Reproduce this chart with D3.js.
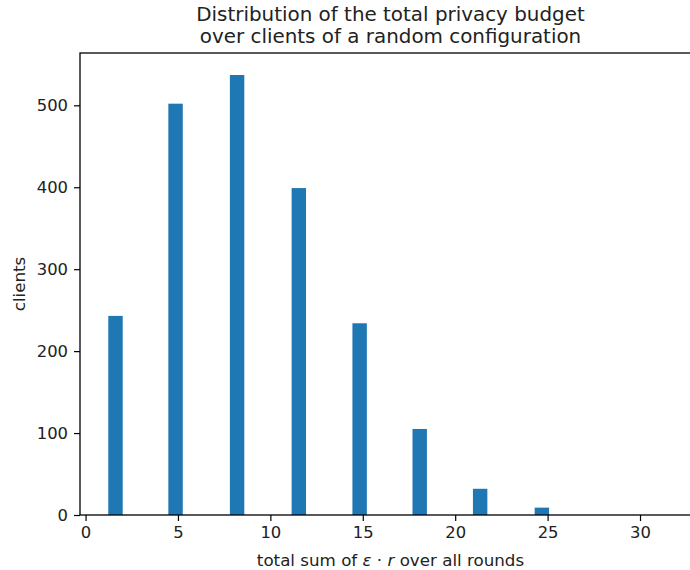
<!DOCTYPE html>
<html>
<head>
<meta charset="utf-8">
<script src="https://cdn.jsdelivr.net/npm/d3@7"></script>
<style>
  html, body { margin: 0; padding: 0; background: #fff; overflow: hidden; }
  svg { display: block; font-family: "DejaVu Sans", sans-serif; }
</style>
</head>
<body>
<svg id="chart" width="690" height="570"></svg>
<script>
// Histogram bins: left edge of each occupied bin and the client count in it
const binStarts = [1.23, 4.48, 7.81, 11.15, 14.44, 17.69, 20.96, 24.30];
const counts    = [243, 502, 537, 399, 234, 105, 32, 9];
const binWidth  = 0.78;

const xTicks = [0, 5, 10, 15, 20, 25, 30];
const yTicks = [0, 100, 200, 300, 400, 500];

const titleLines = ["Distribution of the total privacy budget",
                    "over clients of a random configuration"];

const svg = d3.select("#chart");
const margin = { left: 80, top: 53, right: 701, bottom: 515 };
const tickFont = 16.4;

const x = d3.scaleLinear().domain([-0.30, 33.3]).range([margin.left, margin.right]);
const y = d3.scaleLinear().domain([0, 563.85]).range([margin.bottom, margin.top]);

// bars
svg.append("g")
  .selectAll("rect")
  .data(binStarts.map((s, i) => ({ s, c: counts[i] })))
  .join("rect")
  .attr("x", d => x(d.s))
  .attr("width", d => x(d.s + binWidth) - x(d.s))
  .attr("y", d => y(d.c))
  .attr("height", d => y(0) - y(d.c))
  .attr("fill", "#1f77b4");

// axes
const xAxis = svg.append("g")
  .attr("transform", `translate(0,${margin.bottom})`)
  .call(d3.axisBottom(x).tickValues(xTicks).tickSize(6).tickPadding(5).tickFormat(d3.format("d")));
const yAxis = svg.append("g")
  .attr("transform", `translate(${margin.left},0)`)
  .call(d3.axisLeft(y).tickValues(yTicks).tickSize(6).tickPadding(6).tickFormat(d3.format("d")));

[xAxis, yAxis].forEach(g => {
  g.select(".domain").remove();
  g.selectAll("line").attr("stroke", "#000").attr("stroke-width", 1.2);
  g.selectAll("text").attr("font-size", tickFont).attr("fill", "#222")
    .attr("font-family", "DejaVu Sans, sans-serif");
});

// frame
svg.append("rect")
  .attr("x", margin.left).attr("y", margin.top)
  .attr("width", margin.right - margin.left)
  .attr("height", margin.bottom - margin.top)
  .attr("fill", "none").attr("stroke", "#000").attr("stroke-width", 1.3);

// title
const cx = (margin.left + margin.right) / 2;
svg.append("g").selectAll("text")
  .data(titleLines)
  .join("text")
  .attr("x", cx)
  .attr("y", (d, i) => 21 + i * 21.5)
  .attr("text-anchor", "middle")
  .attr("font-size", 19.9)
  .attr("fill", "#222")
  .text(d => d);

// x label with math-style italics
const xl = svg.append("text")
  .attr("x", cx).attr("y", 566)
  .attr("text-anchor", "middle")
  .attr("font-size", 16.7)
  .attr("fill", "#222");
xl.append("tspan").text("total sum of ");
xl.append("tspan").attr("font-style", "italic").text("ε");
xl.append("tspan").text(" · ");
xl.append("tspan").attr("font-style", "italic").text("r");
xl.append("tspan").text(" over all rounds");

// y label
svg.append("text")
  .attr("transform", `translate(25,${(margin.top + margin.bottom) / 2}) rotate(-90)`)
  .attr("text-anchor", "middle")
  .attr("font-size", 16.7)
  .attr("fill", "#222")
  .text("clients");
</script>
</body>
</html>
